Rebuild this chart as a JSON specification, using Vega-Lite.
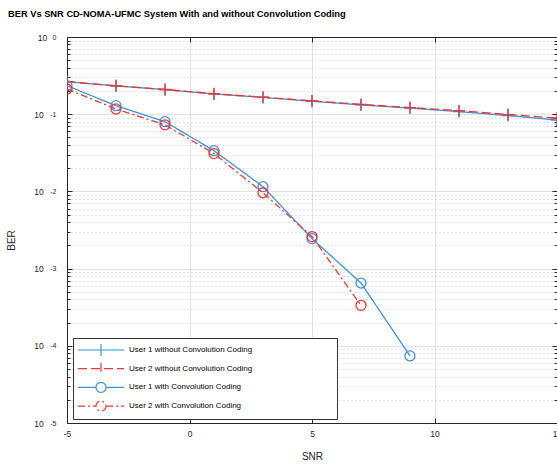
{
  "$schema": "https://vega.github.io/schema/vega-lite/v6.json",
  "width": 490,
  "height": 386,
  "autosize": {"type": "none"},
  "padding": {"left": 67, "top": 37, "right": 0, "bottom": 41},
  "background": "white",
  "title": {
    "text": "BER Vs SNR CD-NOMA-UFMC System With and without Convolution Coding",
    "anchor": "start",
    "frame": "group",
    "dx": -59,
    "offset": 7,
    "baseline": "alphabetic",
    "font": "Liberation Sans",
    "fontSize": 9.3,
    "fontWeight": "bold",
    "color": "#000000"
  },
  "config": {
    "font": "Liberation Sans",
    "view": {"stroke": null},
    "axis": {
      "labelFont": "Liberation Sans",
      "labelColor": "#262626",
      "titleFont": "Liberation Sans",
      "titleColor": "#262626",
      "titleFontWeight": "normal",
      "domainColor": "#262626",
      "tickColor": "#262626",
      "labelFlush": false,
      "labelOverlap": false
    },
    "legend": {
      "orient": "none", "legendX": 6, "legendY": 301,
      "titleOrient": "right", "titlePadding": 82, "titleFontSize": 8, "titleColor": "#ffffff",
      "padding": 3, "rowPadding": 0.7, "clipHeight": 18,
      "symbolOffset": 1, "labelOffset": 4, "labelFontSize": 8,
      "labelFont": "Liberation Sans", "labelColor": "#000000", "labelLimit": 400,
      "fillColor": "#ffffff", "strokeColor": "#333333",
      "symbolSize": 2116, "symbolStrokeWidth": 1.2, "symbolOpacity": 1
    }
  },
  "datasets": {
    "ber": [
      {"series": "User 1 without Convolution Coding", "snr": -5, "ber": 0.263},
      {"series": "User 1 without Convolution Coding", "snr": -3, "ber": 0.233},
      {"series": "User 1 without Convolution Coding", "snr": -1, "ber": 0.208},
      {"series": "User 1 without Convolution Coding", "snr": 1, "ber": 0.183},
      {"series": "User 1 without Convolution Coding", "snr": 3, "ber": 0.165},
      {"series": "User 1 without Convolution Coding", "snr": 5, "ber": 0.147},
      {"series": "User 1 without Convolution Coding", "snr": 7, "ber": 0.132},
      {"series": "User 1 without Convolution Coding", "snr": 9, "ber": 0.12},
      {"series": "User 1 without Convolution Coding", "snr": 11, "ber": 0.108},
      {"series": "User 1 without Convolution Coding", "snr": 13, "ber": 0.096},
      {"series": "User 1 without Convolution Coding", "snr": 15, "ber": 0.084},
      {"series": "User 2 without Convolution Coding", "snr": -5, "ber": 0.264},
      {"series": "User 2 without Convolution Coding", "snr": -3, "ber": 0.233},
      {"series": "User 2 without Convolution Coding", "snr": -1, "ber": 0.209},
      {"series": "User 2 without Convolution Coding", "snr": 1, "ber": 0.184},
      {"series": "User 2 without Convolution Coding", "snr": 3, "ber": 0.166},
      {"series": "User 2 without Convolution Coding", "snr": 5, "ber": 0.149},
      {"series": "User 2 without Convolution Coding", "snr": 7, "ber": 0.134},
      {"series": "User 2 without Convolution Coding", "snr": 9, "ber": 0.122},
      {"series": "User 2 without Convolution Coding", "snr": 11, "ber": 0.111},
      {"series": "User 2 without Convolution Coding", "snr": 13, "ber": 0.099},
      {"series": "User 2 without Convolution Coding", "snr": 15, "ber": 0.089},
      {"series": "User 1 with Convolution Coding", "snr": -5, "ber": 0.234},
      {"series": "User 1 with Convolution Coding", "snr": -3, "ber": 0.129},
      {"series": "User 1 with Convolution Coding", "snr": -1, "ber": 0.08},
      {"series": "User 1 with Convolution Coding", "snr": 1, "ber": 0.0337},
      {"series": "User 1 with Convolution Coding", "snr": 3, "ber": 0.0115},
      {"series": "User 1 with Convolution Coding", "snr": 5, "ber": 0.00245},
      {"series": "User 1 with Convolution Coding", "snr": 7, "ber": 0.00065},
      {"series": "User 1 with Convolution Coding", "snr": 9, "ber": 0.000074},
      {"series": "User 2 with Convolution Coding", "snr": -5, "ber": 0.212},
      {"series": "User 2 with Convolution Coding", "snr": -3, "ber": 0.117},
      {"series": "User 2 with Convolution Coding", "snr": -1, "ber": 0.0728},
      {"series": "User 2 with Convolution Coding", "snr": 1, "ber": 0.0309},
      {"series": "User 2 with Convolution Coding", "snr": 3, "ber": 0.0096},
      {"series": "User 2 with Convolution Coding", "snr": 5, "ber": 0.0026},
      {"series": "User 2 with Convolution Coding", "snr": 7, "ber": 0.000334}
    ]
  },
  "data": {"name": "ber"},
  "layer": [
    {
      "mark": {"type": "point", "filled": false, "size": 2116, "strokeWidth": 1.2, "opacity": 0},
      "encoding": {
        "x": {
          "field": "snr", "type": "quantitative",
          "scale": {"domain": [-5, 15], "nice": false, "zero": false},
          "axis": {
            "orient": "bottom", "values": [-5, 0, 5, 10, 15],
            "labelExpr": "'' + datum.value",
            "grid": true, "gridColor": "#e2e2e2", "gridWidth": 1,
            "ticks": false, "domain": true, "domainWidth": 1,
            "labelFontSize": 8.5, "labelPadding": 6.5,
            "title": "SNR", "titleFontSize": 10, "titlePadding": 13
          }
        },
        "y": {
          "field": "ber", "type": "quantitative",
          "scale": {"type": "log", "domain": [0.00001, 1], "nice": false},
          "axis": {
            "orient": "left", "values": [1, 0.1, 0.01, 0.001, 0.0001, 0.00001],
            "labelExpr": "'10'",
            "grid": true, "gridColor": "#e2e2e2", "gridWidth": 1,
            "ticks": false, "domain": true, "domainWidth": 1,
            "labelFontSize": 8.5,
            "labelPadding": {"condition": {"test": "datum.value == 1", "value": 20.3}, "value": 23.7},
            "labelDy": -1.5,
            "title": "BER", "titleFontSize": 10, "titleX": -51, "titleY": 203
          }
        },
        "color": {
          "field": "series", "type": "nominal",
          "scale": {
            "domain": ["User 1 without Convolution Coding", "User 2 without Convolution Coding", "User 1 with Convolution Coding", "User 2 with Convolution Coding"],
            "range": ["#3f92d6", "#ee3535", "#3f92d6", "#ee3535"]
          },
          "legend": {"title": "\u00a0"}
        },
        "strokeDash": {
          "field": "series", "type": "nominal",
          "scale": {
            "domain": ["User 1 without Convolution Coding", "User 2 without Convolution Coding", "User 1 with Convolution Coding", "User 2 with Convolution Coding"],
            "range": [[1, 0], [9, 4], [1, 0], [7, 3, 2, 3]]
          },
          "legend": {"title": "\u00a0"}
        },
        "shape": {
          "field": "series", "type": "nominal",
          "scale": {
            "domain": ["User 1 without Convolution Coding", "User 2 without Convolution Coding", "User 1 with Convolution Coding", "User 2 with Convolution Coding"],
            "range": [
              "M-1,0H1M0,-0.26V0.26",
              "M-1,0H1M0,-0.26V0.26",
              "M-1,0L-0.22,0M0.22,0L1,0M0.22,0L0.203,0.084L0.156,0.156L0.084,0.203L0,0.22L-0.084,0.203L-0.156,0.156L-0.203,0.084L-0.22,0L-0.203,-0.084L-0.156,-0.156L-0.084,-0.203L0,-0.22L0.084,-0.203L0.156,-0.156L0.203,-0.084Z",
              "M-1,0L-0.22,0M0.22,0L1,0M0.22,0L0.203,0.084L0.156,0.156L0.084,0.203L0,0.22L-0.084,0.203L-0.156,0.156L-0.203,0.084L-0.22,0L-0.203,-0.084L-0.156,-0.156L-0.084,-0.203L0,-0.22L0.084,-0.203L0.156,-0.156L0.203,-0.084Z"
            ]
          },
          "legend": {"title": "\u00a0"}
        }
      }
    },
    {
      "mark": {"type": "line", "strokeWidth": 1.3, "clip": true},
      "encoding": {
        "x": {
          "field": "snr", "type": "quantitative",
          "axis": {
            "orient": "top", "values": [-5, 0, 5, 10, 15],
            "labels": false, "grid": false, "ticks": true, "tickSize": -5,
            "domain": true, "domainWidth": 1, "title": null
          }
        },
        "y": {
          "field": "ber", "type": "quantitative",
          "axis": {
            "orient": "left",
            "values": [0.00002, 0.00003, 0.00004, 0.00005, 0.00006, 0.00007, 0.00008, 0.00009, 0.0002, 0.0003, 0.0004, 0.0005, 0.0006, 0.0007, 0.0008, 0.0009, 0.002, 0.003, 0.004, 0.005, 0.006, 0.007, 0.008, 0.009, 0.02, 0.03, 0.04, 0.05, 0.06, 0.07, 0.08, 0.09, 0.2, 0.3, 0.4, 0.5, 0.6, 0.7, 0.8, 0.9],
            "labels": false, "grid": true, "gridColor": "#c8c8c8", "gridDash": [1, 3],
            "ticks": true, "tickSize": -3, "domain": false, "title": null
          }
        },
        "color": {"field": "series", "type": "nominal", "legend": {"title": "\u00a0"}},
        "strokeDash": {"field": "series", "type": "nominal", "legend": {"title": "\u00a0"}}
      }
    },
    {
      "transform": [{"filter": {"field": "series", "oneOf": ["User 1 without Convolution Coding", "User 2 without Convolution Coding"]}}],
      "mark": {"type": "point", "filled": false, "shape": "M-1.2,0H1.2M0,-1.2V1.2", "size": 100, "strokeWidth": 1.3, "opacity": 1, "clip": true},
      "encoding": {
        "x": {
          "field": "snr", "type": "quantitative",
          "axis": {
            "orient": "bottom", "values": [-5, 0, 5, 10, 15],
            "labels": false, "grid": false, "ticks": true, "tickSize": -5,
            "domain": false, "title": null
          }
        },
        "y": {
          "field": "ber", "type": "quantitative",
          "axis": {
            "orient": "left", "values": [1, 0.1, 0.01, 0.001, 0.0001, 0.00001],
            "labels": false, "grid": false, "ticks": true, "tickSize": -5,
            "domain": false, "title": null
          }
        },
        "color": {"field": "series", "type": "nominal", "legend": {"title": "\u00a0"}}
      }
    },
    {
      "transform": [{"filter": {"field": "series", "oneOf": ["User 1 with Convolution Coding", "User 2 with Convolution Coding"]}}],
      "mark": {"type": "point", "filled": false, "shape": "circle", "size": 100, "strokeWidth": 1.3, "opacity": 1, "clip": true},
      "encoding": {
        "x": {"field": "snr", "type": "quantitative", "axis": null},
        "y": {
          "field": "ber", "type": "quantitative",
          "axis": {
            "orient": "left", "values": [1, 0.1, 0.01, 0.001, 0.0001, 0.00001],
            "labelExpr": "'' + round(log(datum.value) / LN10)",
            "labels": true, "grid": false, "ticks": false, "domain": false,
            "labelFontSize": 7, "labelAlign": "right", "labelPadding": 11, "labelDy": -7, "title": null
          }
        },
        "color": {"field": "series", "type": "nominal", "legend": {"title": "\u00a0"}}
      }
    },
    {
      "mark": {"type": "point", "opacity": 0},
      "encoding": {
        "x": {"field": "snr", "type": "quantitative", "axis": null},
        "y": {
          "field": "ber", "type": "quantitative",
          "axis": {
            "orient": "right",
            "values": [0.00002, 0.00003, 0.00004, 0.00005, 0.00006, 0.00007, 0.00008, 0.00009, 0.0002, 0.0003, 0.0004, 0.0005, 0.0006, 0.0007, 0.0008, 0.0009, 0.002, 0.003, 0.004, 0.005, 0.006, 0.007, 0.008, 0.009, 0.02, 0.03, 0.04, 0.05, 0.06, 0.07, 0.08, 0.09, 0.2, 0.3, 0.4, 0.5, 0.6, 0.7, 0.8, 0.9],
            "labels": false, "grid": false, "ticks": true, "tickSize": -3,
            "domain": true, "domainWidth": 1, "title": null
          }
        }
      }
    },
    {
      "mark": {"type": "point", "opacity": 0},
      "encoding": {
        "x": {"field": "snr", "type": "quantitative", "axis": null},
        "y": {
          "field": "ber", "type": "quantitative",
          "axis": {
            "orient": "right", "values": [1, 0.1, 0.01, 0.001, 0.0001, 0.00001],
            "labels": false, "grid": false, "ticks": true, "tickSize": -5,
            "domain": false, "title": null
          }
        }
      }
    }
  ],
  "resolve": {"axis": {"x": "independent", "y": "independent"}}
}
